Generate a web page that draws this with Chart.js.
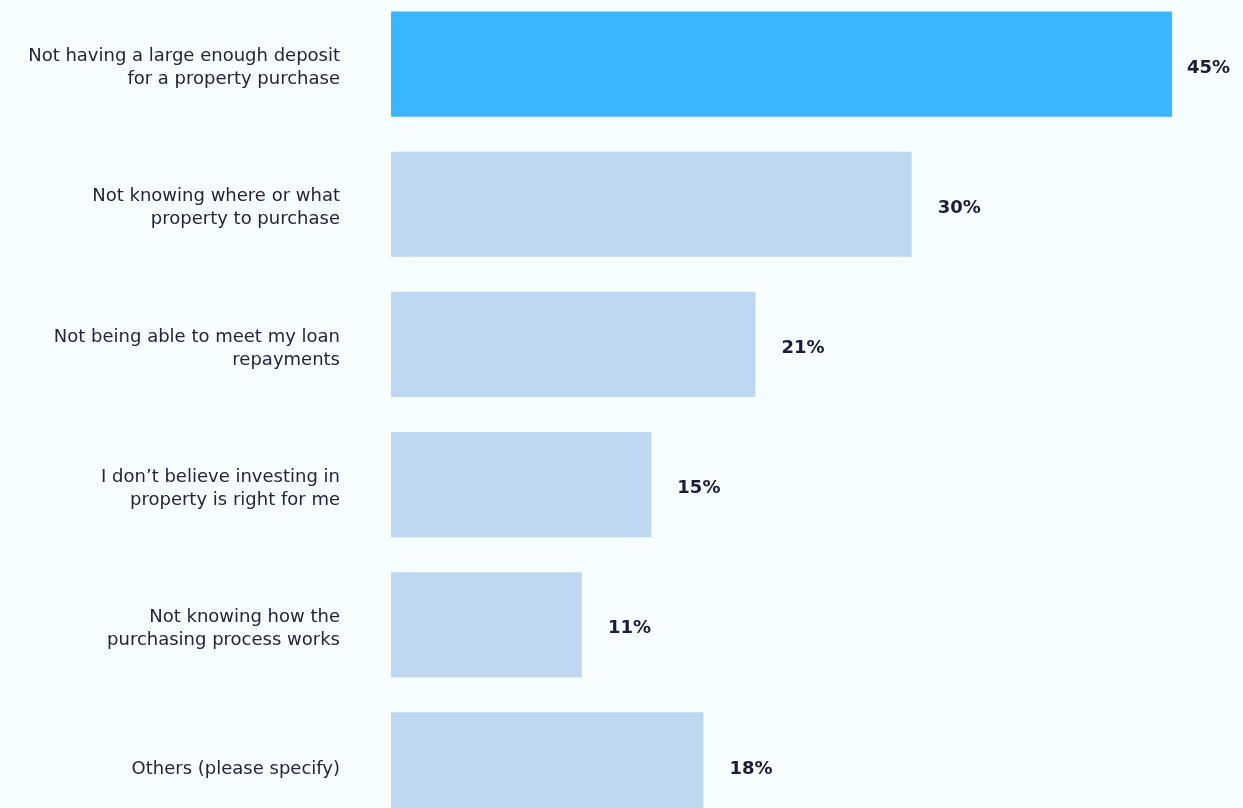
<!DOCTYPE html>
<html>
<head>
<meta charset="utf-8">
<script src="https://cdn.jsdelivr.net/npm/chart.js@4"></script>
<style>
  html, body { margin: 0; padding: 0; background: #f6feff; overflow: hidden; }
  #wrap { position: absolute; left: 0; top: -6px; width: 1243px; height: 841px; }
</style>
</head>
<body>
<div id="wrap"><canvas id="myChart"></canvas></div>
<script>
const categories = [
    ['Not having a large enough deposit', 'for a property purchase'],
    ['Not knowing where or what', 'property to purchase'],
    ['Not being able to meet my loan', 'repayments'],
    ['I don\u2019t believe investing in', 'property is right for me'],
    ['Not knowing how the', 'purchasing process works'],
    'Others (please specify)'
];
const values = [45, 30, 21, 15, 11, 18];
const barColors = ['#38b6ff', '#bed8f1', '#bed8f1', '#bed8f1', '#bed8f1', '#bed8f1'];

// value labels at the end of each bar
const valueLabels = {
    id: 'valueLabels',
    afterDatasetsDraw(chart) {
        const c = chart.ctx;
        const meta = chart.getDatasetMeta(0);
        c.save();
        c.font = 'bold 18px "DejaVu Sans"';
        c.fillStyle = '#1c1b3b';
        c.textBaseline = 'middle';
        c.textAlign = 'left';
        meta.data.forEach((bar, i) => {
            const txt = values[i] + '%';
            const w = c.measureText(txt).width;
            let x = bar.x + 26;
            x = Math.min(x, chart.width - 13 - w);
            c.fillText(txt, x, bar.y + 4);
        });
        c.restore();
    }
};

const ctx = document.getElementById('myChart');
new Chart(ctx, {
    type: 'bar',
    data: {
        labels: categories,
        datasets: [{
            data: values,
            backgroundColor: barColors,
            borderWidth: 0,
            barPercentage: 0.75,
            categoryPercentage: 1
        }]
    },
    options: {
        indexAxis: 'y',
        responsive: true,
        maintainAspectRatio: false,
        animation: false,
        layout: { padding: { left: 0, right: 71, top: 0, bottom: 0 } },
        plugins: {
            legend: { display: false },
            tooltip: { enabled: false }
        },
        scales: {
            x: {
                display: false,
                min: 0,
                max: 45
            },
            y: {
                grid: { display: false, drawTicks: false },
                border: { display: false },
                afterFit: (scale) => {
                    scale.width = 391;
                    // tick padding should only push labels sideways
                    scale.paddingTop = 0;
                    scale.paddingBottom = 0;
                },
                ticks: {
                    padding: 51,
                    labelOffset: 4,
                    color: '#25233f',
                    font: { family: '"DejaVu Sans"', size: 18, lineHeight: 1.28 }
                }
            }
        }
    },
    plugins: [valueLabels]
});
</script>
</body>
</html>
